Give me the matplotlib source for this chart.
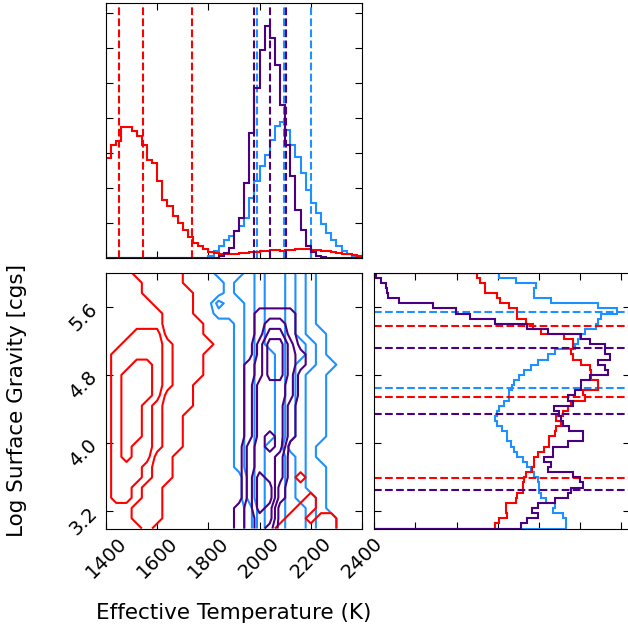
import numpy as np
import matplotlib.pyplot as plt
from matplotlib.ticker import MultipleLocator

RED = '#ff0000'
BLUE = '#1e90ff'
PURPLE = '#4b0082'

# parameter ranges of the corner plot
teff_range = (1400, 2400)
logg_range = (3.0, 6.0)
n_bins = 50

# Teff histograms, 50 bins from 1400 to 2400 K (1 unit = 1 tick)
teff_red = [2.86, 3.22, 3.35, 3.74, 3.74, 3.62, 3.50, 3.22, 2.81, 2.71,
            2.19, 1.67, 1.50, 1.19, 1.00, 0.81, 0.60, 0.43, 0.33, 0.26,
            0.18, 0.14, 0.11, 0.10, 0.11, 0.12, 0.14, 0.14, 0.16, 0.17,
            0.19, 0.19, 0.22, 0.22, 0.21, 0.22, 0.24, 0.26, 0.26, 0.26,
            0.24, 0.22, 0.21, 0.19, 0.17, 0.14, 0.12, 0.10, 0.09, 0.07]
teff_blue = [0, 0, 0, 0, 0, 0, 0, 0, 0, 0,
             0, 0, 0, 0, 0, 0, 0, 0, 0, 0,
             0.05, 0.19, 0.35, 0.50, 0.62, 0.78, 0.90, 1.14, 1.71, 2.19,
             2.62, 2.95, 3.38, 3.78, 3.88, 3.65, 3.24, 2.90, 2.43, 1.93,
             1.57, 1.29, 0.98, 0.71, 0.50, 0.33, 0.19, 0.12, 0.05, 0.03]
teff_purple = [0, 0, 0, 0, 0, 0, 0, 0, 0, 0,
               0, 0, 0, 0, 0, 0, 0, 0, 0, 0,
               0, 0, 0.05, 0.14, 0.29, 0.76, 1.14, 2.14, 3.57, 4.86,
               5.95, 6.64, 6.29, 5.52, 4.38, 3.24, 2.33, 1.38, 0.81, 0.33,
               0.17, 0.07, 0.03, 0, 0, 0, 0, 0, 0, 0]

# log g histograms, 50 bins listed from log g = 6.0 down to 3.0
logg_red = [2.50, 2.58, 2.70, 2.70, 2.99, 3.07, 3.28, 3.48, 3.48, 3.69,
            3.87, 4.06, 4.63, 4.84, 4.84, 4.80, 4.84, 5.04, 5.25, 5.29,
            5.29, 5.45, 5.45, 5.08, 5.12, 4.80, 4.71, 4.59, 4.43, 4.55,
            4.43, 4.39, 4.26, 4.26, 4.14, 3.98, 3.89, 3.89, 3.85, 3.69,
            3.65, 3.61, 3.61, 3.48, 3.44, 3.20, 3.20, 3.24, 3.03, 2.95]
logg_blue = [3.03, 3.44, 3.93, 3.89, 3.89, 4.30, 5.45, 5.90, 5.53, 5.45,
             5.39, 5.12, 5.02, 4.96, 4.88, 4.39, 4.22, 3.98, 3.81, 3.65,
             3.52, 3.40, 3.36, 3.28, 3.28, 3.16, 3.03, 2.99, 2.95, 2.99,
             3.11, 3.24, 3.24, 3.32, 3.40, 3.48, 3.61, 3.73, 3.81, 3.89,
             3.98, 4.02, 4.02, 4.06, 4.18, 4.39, 4.34, 4.59, 4.67, 4.67]
logg_purple = [0.04, 0.16, 0.29, 0.30, 0.33, 0.60, 1.43, 1.99, 2.34, 2.93,
               3.73, 4.22, 5.04, 5.25, 5.61, 5.61, 5.74, 5.45, 5.61, 5.70,
               5.25, 5.04, 5.04, 4.88, 4.71, 4.84, 4.37, 4.51, 4.55, 4.59,
               4.75, 5.08, 5.08, 4.71, 4.34, 4.34, 4.14, 4.30, 4.22, 4.84,
               5.00, 5.08, 4.80, 4.71, 4.39, 3.98, 3.85, 3.98, 3.73, 3.57]

# quantiles (16, 50, 84 %) shown as dashed lines
teff_q_red = [1451, 1543, 1736]
teff_q_blue = [1989, 2096, 2200]
teff_q_purple = [1979, 2041, 2102]
logg_q_red = [3.59, 4.54, 5.37]
logg_q_blue = [4.65, 5.54]
logg_q_purple = [3.45, 4.34, 5.12]

# 2D density bands (0-4) on a 26x26 grid, Teff 1400..2400, log g 6.0 (top) .. 3.0
# '.' = 0, spaces only group columns by five
red_rows = [
    "22211 111", "22221 111", "22221 1111", "22222 1111", "22222 2111",
    "22222 21111", "22233 31111", "22333 32111 1", "23333 32111", "23344 32111",
    "23444 32111", "23444 3211", "23444 3111", "23443 2111", "23443 211",
    "23443 211", "23443 211", "23433 211", "23433 11", "23332 11",
    "23332 11... ..... ....1", "23321 1", "23321 1.... ..... ..... 1",
    "22211 1.... ..... ....1 1", "22211 1.... ..... ...11 .11",
    "22221 ..... ..... ..111 111",
]
blue_rows = [
    "..... ..... .1112 34432 1", "..... ..... ..122 34432 1",
    "..... ..... ..122 34432 1", "..... ..... .2112 34432 1",
    "..... ..... .1112 34432 1", "..... ..... ...12 34432 1",
    "..... ..... ...12 34432 11", "..... ..... ...12 34433 21",
    "..... ..... ...12 33433 21", "..... ..... ...12 33432 211",
    "..... ..... ...12 33432 11", "..... ..... ...12 33432 11",
    "..... ..... ...12 33432 11", "..... ..... ...12 33432 11",
    "..... ..... ...12 33432 11", "..... ..... ...12 33432 11",
    "..... ..... ...12 33432 11", "..... ..... ...12 34422 1",
    "..... ..... ...12 34432 1", "..... ..... ...12 34432 11",
    "..... ..... ....2 34432 11", "..... ..... ....2 34432 11",
    "..... ..... ....2 34432 21", "..... ..... ....1 34433 21",
    "..... ..... ....1 34433 211", "..... ..... ....1 34433 211",
]
purple_rows = [
    "", "", "", "",
    "..... ..... ..... 1111", "..... ..... ..... 1221",
    "..... ..... ..... 1331", "..... ..... ..... 2442",
    "..... ..... ..... 24421", "..... ..... ....1 24421",
    "..... ..... ....1 2442", "..... ..... ....1 3332",
    "..... ..... ....1 3332", "..... ..... ....1 3331",
    "..... ..... ....1 3331", "..... ..... ....1 3331",
    "..... ..... ....1 3431", "..... ..... ....2 343",
    "..... ..... ....2 332", "..... ..... ....2 332",
    "..... ..... ....2 432", "..... ..... ....2 441",
    "..... ..... ....2 441", "..... ..... ...12 43",
    "..... ..... ...12 33", "..... ..... ...12 32",
]


def band_grid(rows, n=26):
    grid = []
    for r in rows[::-1]:
        r = r.replace(' ', '').ljust(n, '.')
        grid.append([0 if ch == '.' else int(ch) for ch in r])
    return np.array(grid, dtype=float)


fig = plt.figure(figsize=(6.28, 6.28), dpi=100)
ax_top = fig.add_axes([0.1688, 0.5892, 0.4076, 0.4061])
ax_2d = fig.add_axes([0.1688, 0.1584, 0.4076, 0.4076])
ax_side = fig.add_axes([0.5963, 0.1584, 0.4076, 0.4076])

teff_edges = np.linspace(teff_range[0], teff_range[1], n_bins + 1)
teff_mid = 0.5 * (teff_edges[:-1] + teff_edges[1:])
logg_edges = np.linspace(logg_range[0], logg_range[1], n_bins + 1)
logg_mid = 0.5 * (logg_edges[:-1] + logg_edges[1:])

sets = [
    (BLUE, teff_blue, logg_blue, teff_q_blue, logg_q_blue, blue_rows),
    (RED, teff_red, logg_red, teff_q_red, logg_q_red, red_rows),
    (PURPLE, teff_purple, logg_purple, teff_q_purple, logg_q_purple, purple_rows),
]

T_nodes = np.linspace(teff_range[0], teff_range[1], 26)
g_nodes = np.linspace(logg_range[0], logg_range[1], 26)

for col, th, gh, tq, gq, rows in sets:
    # marginal of Teff
    ax_top.hist(teff_mid, bins=teff_edges, weights=th, histtype='step', color=col, lw=1.5)
    for q in tq:
        ax_top.axvline(q, color=col, ls='--', lw=1.5)
    # marginal of log g, drawn sideways
    ax_side.hist(logg_mid, bins=logg_edges, weights=gh[::-1], histtype='step',
                 orientation='horizontal', color=col, lw=1.5)
    for q in gq:
        ax_side.axhline(q, color=col, ls='--', lw=1.5)
    # joint distribution
    ax_2d.contour(T_nodes, g_nodes, band_grid(rows), levels=[0.5, 1.5, 2.5, 3.5],
                  colors=col, linewidths=1.5)

for ax in (ax_top, ax_2d, ax_side):
    ax.tick_params(direction='in', top=True, right=True, length=5, labelsize=14)

ax_top.set_xlim(*teff_range)
ax_top.set_ylim(0, 7.29)
ax_top.xaxis.set_major_locator(MultipleLocator(200))
ax_top.yaxis.set_major_locator(MultipleLocator(1))
ax_top.tick_params(labelbottom=False, labelleft=False)

ax_2d.set_xlim(*teff_range)
ax_2d.set_ylim(*logg_range)
ax_2d.xaxis.set_major_locator(MultipleLocator(200))
ax_2d.yaxis.set_major_locator(MultipleLocator(0.8))
ax_2d.tick_params(axis='x', labelrotation=45)
ax_2d.tick_params(axis='y', labelrotation=45)

ax_side.set_ylim(*logg_range)
ax_side.set_xlim(0, 6.24)
ax_side.xaxis.set_major_locator(MultipleLocator(1))
ax_side.yaxis.set_major_locator(MultipleLocator(0.8))
ax_side.tick_params(labelbottom=False, labelleft=False)

fig.text(234 / 628, 1 - 613 / 628, 'Effective Temperature (K)', ha='center', va='center', fontsize=15.5)
fig.text(17 / 628, 1 - 400 / 628, 'Log Surface Gravity [cgs]', rotation=90,
         ha='center', va='center', fontsize=15.5)

fig.savefig('out.png', dpi=100)
